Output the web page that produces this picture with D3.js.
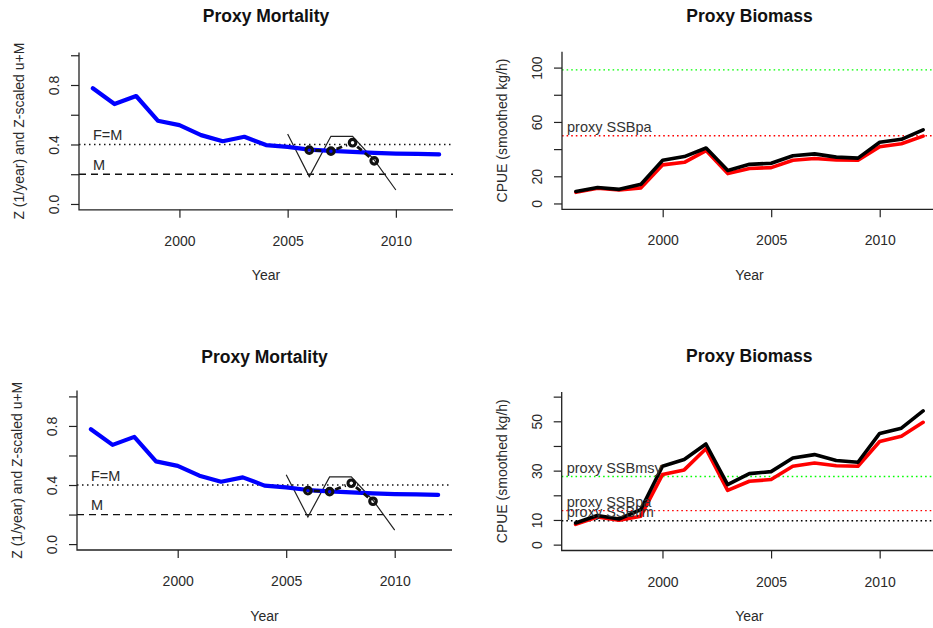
<!DOCTYPE html>
<html><head><meta charset="utf-8">
<script src="https://cdn.jsdelivr.net/npm/d3@7"></script>
<style>
body{margin:0;background:#fff}
svg{display:block}
text{font-family:"Liberation Sans",Arial,Helvetica,sans-serif}
</style></head>
<body><svg id="c" width="933" height="628"></svg>
<script>
// ---------- data ----------
const years = [1996,1997,1998,1999,2000,2001,2002,2003,2004,2005,2006,2007,2008,2009,2010,2011,2012];
const mortalityZ = [0.778,0.672,0.726,0.560,0.530,0.463,0.422,0.452,0.396,0.384,0.366,0.357,0.350,0.344,0.339,0.337,0.333];
const zScaledYears = [2005,2006,2007,2008,2009,2010];
const zScaledValues = [0.47,0.184,0.455,0.455,0.297,0.094];
const pointYears = [2006,2007,2008,2009];
const pointValues = [0.362,0.355,0.412,0.290];
const mortRefLabels = ["F=M","M"];
const mortRefValues = [0.4,0.2];

const cpueBlack = [8.8,11.8,10.4,14.2,31.8,34.5,40.8,24.3,28.8,29.6,35.1,36.5,34.1,33.4,45.1,47.2,54.2];
const cpueRed   = [8.2,11.2,9.9,11.5,28.4,30.3,38.9,22.0,25.7,26.4,31.8,33.1,32.0,31.8,41.8,43.9,49.6];
const bioRefLabelsTop = ["","proxy SSBpa"];
const bioRefValuesTop = [98.3,49.8];
const bioRefLabelsBottom = ["proxy SSBmsy","proxy SSBpa","proxy SSBlim"];
const bioRefValuesBottom = [27.6,13.8,9.7];

const xTicks = [2000,2005,2010];
const mortTicks = [0,0.2,0.4,0.6,0.8,1.0];
const mortTickLabels = [0,0.4,0.8];
const bioTicksTop = [0,20,40,60,80,100];
const bioTickLabelsTop = [0,20,60,100];
const bioTicksBottom = [0,10,20,30,40,50,60];
const bioTickLabelsBottom = [0,10,30,50];

// ---------- layout ----------
const svg = d3.select("#c");
svg.append("rect").attr("width",933).attr("height",628).attr("fill","#fff");
const TXT = "#2a2a2a";
const pad = ([a,b]) => [a-0.04*(b-a), b+0.04*(b-a)];
let clipId = 0;

function panel(cfg){
  const x = d3.scaleLinear().domain(pad([1996,2012])).range([cfg.left,cfg.right]);
  const y = d3.scaleLinear().domain(pad(cfg.ylim)).range([cfg.bottom,cfg.top]);
  const g = svg.append("g");
  const id = "clip"+(clipId++);
  svg.append("clipPath").attr("id",id).append("rect")
     .attr("x",cfg.left).attr("y",cfg.top).attr("width",cfg.right-cfg.left).attr("height",cfg.bottom-cfg.top);
  const pg = g.append("g").attr("clip-path",`url(#${id})`);

  // axes
  const xa = g.append("g").attr("transform",`translate(0,${cfg.bottom})`)
    .call(d3.axisBottom(x).tickValues(xTicks).tickSize(8).tickSizeOuter(0).tickFormat(d3.format("d")));
  xa.select(".domain").remove();
  xa.selectAll("line").attr("stroke","#222").attr("stroke-width",1.2);
  xa.selectAll("text").attr("y",36).attr("dy",null).attr("fill",TXT)
    .style("font-size","14px").style("font-family",'"Liberation Sans",Arial,sans-serif');

  const ya = g.append("g").attr("transform",`translate(${cfg.left},0)`)
    .call(d3.axisLeft(y).tickValues(cfg.yticks).tickSize(8).tickSizeOuter(0)
      .tickFormat(d => cfg.ylabels.includes(d) ? cfg.fmt(d) : ""));
  ya.select(".domain").remove();
  ya.selectAll("line").attr("stroke","#222").attr("stroke-width",1.2);
  ya.selectAll("text").attr("x",0).attr("y",-20).attr("dy",null).attr("transform","rotate(-90)")
    .attr("text-anchor","middle").attr("fill",TXT)
    .style("font-size","14px").style("font-family",'"Liberation Sans",Arial,sans-serif');

  // L box
  g.append("path").attr("d",`M${cfg.left},${cfg.top}V${cfg.bottom}H${cfg.right}`)
    .attr("fill","none").attr("stroke","#222").attr("stroke-width",1.3);

  // titles
  const cx = (cfg.left+cfg.right)/2;
  g.append("text").attr("x",cx).attr("y",cfg.titleY).attr("text-anchor","middle")
    .attr("fill","#111").style("font-size","17.5px").style("font-weight","bold").text(cfg.title);
  g.append("text").attr("x",cx).attr("y",cfg.bottom+70.5).attr("text-anchor","middle")
    .attr("fill",TXT).style("font-size","14px").text("Year");
  g.append("text").attr("transform",`translate(${cfg.left-55},${(cfg.top+cfg.bottom)/2}) rotate(-90)`)
    .attr("text-anchor","middle").attr("fill",TXT).style("font-size","14px").text(cfg.ylab);

  return {x,y,g,pg};
}

function mortalityPanel(cfg){
  const {x,y,g,pg} = panel(Object.assign(cfg,{
    ylim:cfg.ylim, yticks:mortTicks, ylabels:mortTickLabels, fmt:d3.format(".1f"),
    title:"Proxy Mortality", ylab:"Z (1/year) and Z-scaled u+M"}));
  const dashes = ["1.5,3.5","7,5"];
  mortRefValues.forEach((v,i)=>{
    pg.append("line").attr("x1",cfg.left).attr("x2",cfg.right).attr("y1",y(v)).attr("y2",y(v))
      .attr("stroke","#111").attr("stroke-width",1.3).attr("stroke-dasharray",dashes[i]);
    g.append("text").attr("x",cfg.left+14).attr("y",y(v)-4.5).attr("fill",TXT)
      .style("font-size","14.5px").text(mortRefLabels[i]);
  });
  const line = d3.line().x(d=>x(d[0])).y(d=>y(d[1]));
  pg.append("path").datum(zScaledYears.map((d,i)=>[d,zScaledValues[i]])).attr("d",line)
    .attr("fill","none").attr("stroke","#222").attr("stroke-width",1.2);
  pg.append("path").datum(years.map((d,i)=>[d,mortalityZ[i]])).attr("d",line)
    .attr("fill","none").attr("stroke","#0000ff").attr("stroke-width",4.2)
    .attr("stroke-linejoin","round").attr("stroke-linecap","round");
  // points connected by dashed segments (type "b")
  const pts = pointYears.map((d,i)=>[x(d),y(pointValues[i])]);
  for(let i=0;i<pts.length-1;i++){
    const [x1,y1]=pts[i],[x2,y2]=pts[i+1];
    const L=Math.hypot(x2-x1,y2-y1), gap=6;
    if(L<=2*gap) continue;
    const ux=(x2-x1)/L, uy=(y2-y1)/L;
    pg.append("line").attr("x1",x1+ux*gap).attr("y1",y1+uy*gap).attr("x2",x2-ux*gap).attr("y2",y2-uy*gap)
      .attr("stroke","#111").attr("stroke-width",2.8).attr("stroke-dasharray","6,4");
  }
  pg.selectAll("circle.pt").data(pts).join("circle").attr("class","pt")
    .attr("cx",d=>d[0]).attr("cy",d=>d[1]).attr("r",3.3)
    .attr("fill","none").attr("stroke","#111").attr("stroke-width",3.1);
}

function biomassPanel(cfg){
  const {x,y,g,pg} = panel(Object.assign(cfg,{
    title:"Proxy Biomass", ylab:"CPUE (smoothed kg/h)", fmt:d3.format("d")}));
  cfg.refValues.forEach((v,i)=>{
    pg.append("line").attr("x1",cfg.left).attr("x2",cfg.right).attr("y1",y(v)).attr("y2",y(v))
      .attr("stroke",cfg.refColors[i]).attr("stroke-width",1.4).attr("stroke-dasharray","1.6,3");
    if(cfg.refLabels[i])
      g.append("text").attr("x",cfg.left+5).attr("y",y(v)-4).attr("fill","#333")
        .style("font-size","14.5px").text(cfg.refLabels[i]);
  });
  const line = d3.line().x(d=>x(d[0])).y(d=>y(d[1]));
  pg.append("path").datum(years.map((d,i)=>[d,cpueRed[i]])).attr("d",line)
    .attr("fill","none").attr("stroke","#ff0000").attr("stroke-width",3.6)
    .attr("stroke-linejoin","round").attr("stroke-linecap","round");
  pg.append("path").datum(years.map((d,i)=>[d,cpueBlack[i]])).attr("d",line)
    .attr("fill","none").attr("stroke","#000").attr("stroke-width",3.6)
    .attr("stroke-linejoin","round").attr("stroke-linecap","round");
}

mortalityPanel({left:79,right:453,top:52.4,bottom:209.8,ylim:[0,0.98],titleY:21.5});
mortalityPanel({left:77,right:452,top:390.5,bottom:550,ylim:[0,1],titleY:362.5});
biomassPanel({left:562,right:937,top:51.7,bottom:209.3,ylim:[0,107.4],titleY:21.5,
  yticks:bioTicksTop,ylabels:bioTickLabelsTop,refValues:bioRefValuesTop,refLabels:bioRefLabelsTop,
  refColors:["#00ff00","#ff0000"]});
biomassPanel({left:561.7,right:937,top:392,bottom:550.5,ylim:[0,59.5],titleY:362.3,
  yticks:bioTicksBottom,ylabels:bioTickLabelsBottom,refValues:bioRefValuesBottom,refLabels:bioRefLabelsBottom,
  refColors:["#00ff00","#ff0000","#000000"]});
</script>
</body></html>
